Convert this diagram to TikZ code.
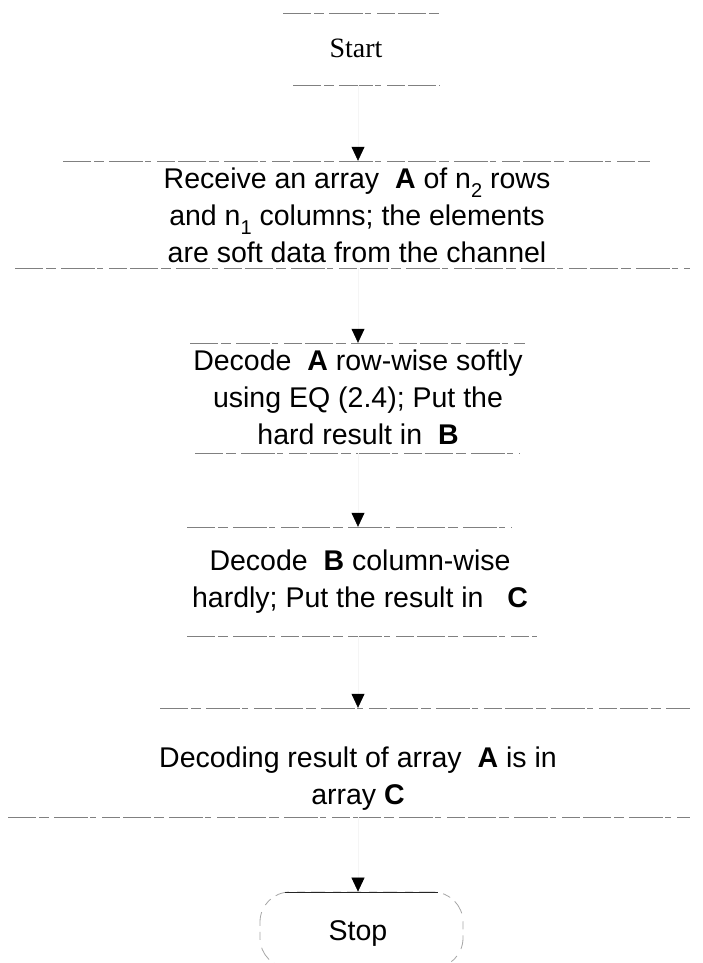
\documentclass[tikz,border=0pt]{standalone}
\usepackage{fontspec}
\setmainfont{Liberation Sans}
\newfontfamily\timesfont{Liberation Serif}
\usetikzlibrary{arrows.meta}
\newcommand{\subidx}[1]{\raisebox{-0.32em}{\fontsize{20}{20}\selectfont #1}}
\newcommand{\boxlines}[1]{{\fontsize{28.5}{37}\selectfont\setlength\tabcolsep{0pt}\begin{tabular}[t]{c}#1\end{tabular}}}
\tikzset{
  frame/.style={draw=none, rectangle, inner sep=0pt, minimum width=200pt},
  edgeline/.style={draw=black!50, line width=0.9pt,
    dash pattern=on 28pt off 3pt on 10pt off 5pt on 34pt off 2pt on 6pt off 6pt on 18pt off 3pt},
  conn/.style={draw=black!4, line width=0.6pt,
    -{Triangle[length=14pt,width=13pt,color=black,fill=black]}},
  txt/.style={inner sep=0pt, anchor=base},
  stopshape/.style={draw=black!35, line width=0.8pt, rectangle, rounded corners=30pt,
    minimum width=203pt, minimum height=76pt, inner sep=0pt,
    dash pattern=on 14pt off 6pt on 8pt off 8pt}
}
\begin{document}
\begin{tikzpicture}[x=1pt,y=-1pt]
\useasboundingbox (0,0) rectangle (703,963);

% frames (named shapes)
\node[frame, minimum height=72pt] (s) at (358,49) {};
\node[frame, minimum height=107pt] (b1) at (358,214.5) {};
\node[frame, minimum height=110pt] (b2) at (358,398) {};
\node[frame, minimum height=109pt] (b3) at (358,581.5) {};
\node[frame, minimum height=109pt] (b4) at (358,762.5) {};
\node[stopshape] (e) at (361.5,930) {};

% visible edges of the frames
\draw[edgeline] (283,13) -- (443,13);
\draw[edgeline] (293,85) -- (440,85);
\draw[edgeline] (63,161) -- (650,161);
\draw[edgeline] (15,268) -- (690,268);
\draw[edgeline] (190,343) -- (525,343);
\draw[edgeline] (195,453) -- (520,453);
\draw[edgeline] (187,527) -- (512,527);
\draw[edgeline] (187,636) -- (537,636);
\draw[edgeline] (160,708) -- (690,708);
\draw[edgeline] (8,817) -- (690,817);
\draw[draw=black!85, line width=0.9pt] (285,892) -- (438,892);

% texts
\node[txt] (t0) at (356,58) {\fontsize{28}{30}\selectfont\timesfont Start};
\node[txt] (t1) at (357,188) {\boxlines{Receive an array\ \ \textbf{A} of n\subidx{2} rows\\
  and n\subidx{1} columns; the elements\\ are soft data from the channel}};
\node[txt] (t2) at (358,370) {\boxlines{Decode\ \ \textbf{A} row-wise softly\\
  using EQ (2.4); Put the\\ hard result in\ \ \textbf{B}}};
\node[txt] (t3) at (360,570) {\boxlines{Decode\ \ \textbf{B} column-wise\\
  hardly; Put the result in\ \ \ \textbf{C}}};
\node[txt] (t4) at (358,767) {\boxlines{Decoding result of array\ \ \textbf{A} is in\\ array \textbf{C}}};
\node[txt] (t5) at (358,940) {\fontsize{28.5}{30}\selectfont Stop};

% connectors
\draw[conn] (s.south) -- (b1.north);
\draw[conn] (b1.south) -- (b2.north);
\draw[conn] (b2.south) -- (b3.north);
\draw[conn] (b3.south) -- (b4.north);
\draw[conn] (b4.south) -- (e.north -| b4.south);
\end{tikzpicture}
\end{document}
